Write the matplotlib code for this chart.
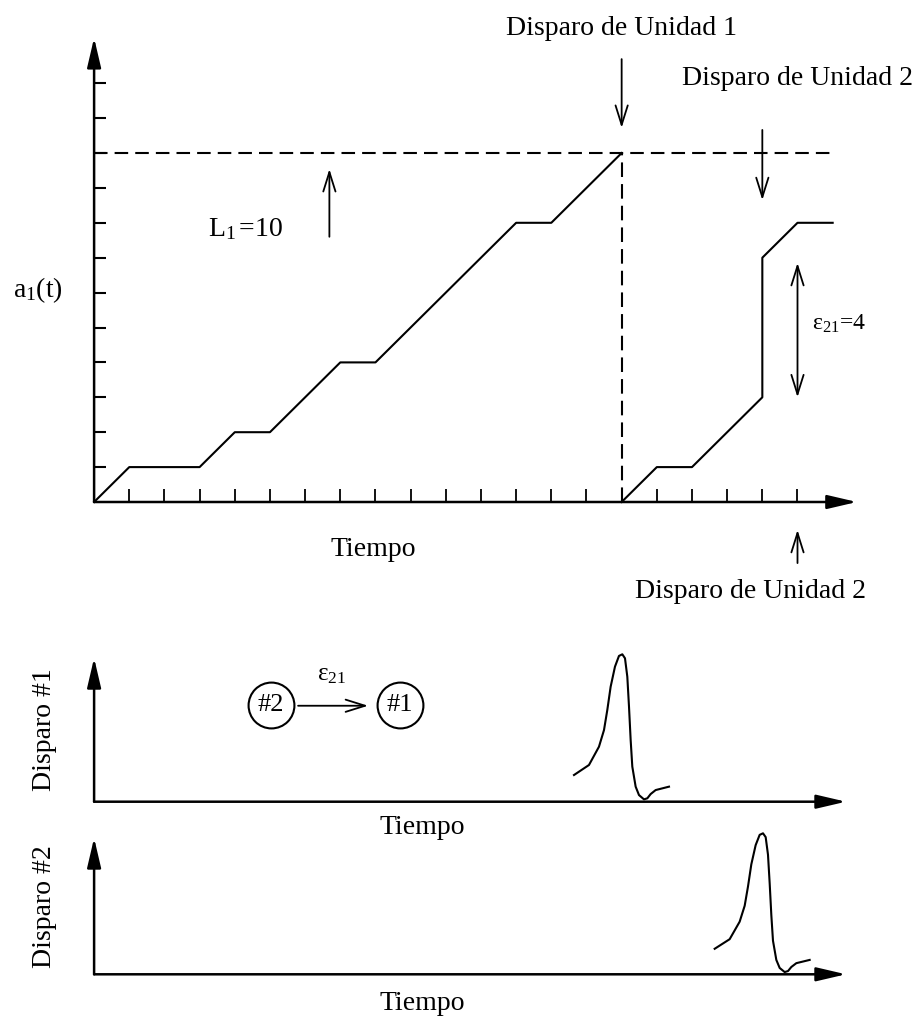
import matplotlib
matplotlib.use("Agg")
import matplotlib.pyplot as plt

plt.rcParams['font.family'] = ['Liberation Serif', 'DejaVu Serif']
plt.rcParams['mathtext.fontset'] = 'custom'
plt.rcParams['mathtext.rm'] = 'Liberation Serif'
plt.rcParams['mathtext.it'] = 'Liberation Serif:italic'
plt.rcParams['mathtext.default'] = 'regular'

# ---------------- data ----------------
unit1_t = [0, 1, 3, 4, 5, 7, 8, 12, 13, 15]
unit1_a = [0, 1, 1, 2, 2, 4, 4, 8, 8, 10]
unit2_t = [15, 16, 17, 19, 19, 20, 21]
unit2_a = [0, 1, 1, 3, 7, 8, 8]
threshold = 10
threshold_end = 21.1
fire1_t = 15
fire2_t = 19
eps_t = 20
eps_low, eps_high = 3.0, 6.85
x_ticks = list(range(1, 21))
y_ticks = list(range(1, 13))

spike_dt = [-1.355, -0.929, -0.645, -0.502, -0.408, -0.313, -0.19, -0.076, 0.019,
            0.095, 0.161, 0.209, 0.256, 0.303, 0.398, 0.493, 0.635, 0.73, 0.825,
            0.967, 1.346]
spike_amp = [0.181, 0.249, 0.373, 0.486, 0.622, 0.78, 0.916, 0.989, 1.0,
             0.973, 0.848, 0.645, 0.419, 0.238, 0.102, 0.045, 0.016, 0.023, 0.052,
             0.079, 0.102]

W, H = 919, 1016
fig = plt.figure(figsize=(W / 100, H / 100), dpi=100)

FS = 20
LW_AX = 1.8
LW = 1.5
px_x = 35.17  # pixels per time unit

def axes_at(x0px, y0px, xmax, ymax, py):
    left = x0px / W
    bottom = (H - y0px) / H
    width = xmax * px_x / W
    height = ymax * py / H
    ax = fig.add_axes([left, bottom, width, height])
    ax.set_xlim(0, xmax)
    ax.set_ylim(0, ymax)
    ax.patch.set_alpha(0)
    for s in ax.spines.values():
        s.set_visible(False)
    return ax

def axis_arrow(ax, xy, xytext):
    ax.annotate('', xy=xy, xytext=xytext, annotation_clip=False,
                arrowprops=dict(arrowstyle='-|>,head_length=1.2,head_width=0.28',
                                lw=LW_AX, color='k', mutation_scale=15,
                                shrinkA=0, shrinkB=0))

def open_arrow(ax, xy, xytext, style='->'):
    ax.annotate('', xy=xy, xytext=xytext, annotation_clip=False,
                arrowprops=dict(arrowstyle=style + ',head_length=0.7,head_width=0.22',
                                lw=1.3, color='k', mutation_scale=20,
                                shrinkA=0, shrinkB=0))

# ---------------- main chart ----------------
py_main = 34.9
xmax_m, ymax_m = 21.69, 13.3
ax = axes_at(94.1, 502, xmax_m, ymax_m, py_main)
ax.set_xticks(x_ticks)
ax.set_yticks(y_ticks)
ax.tick_params(axis='x', direction='in', length=9.4, width=1.3,
               labelbottom=False)
ax.tick_params(axis='y', direction='in', length=8.6, width=1.5,
               labelleft=False)
axis_arrow(ax, (xmax_m, 0), (0, 0))
axis_arrow(ax, (0, ymax_m), (0, 0))

ax.plot(unit1_t, unit1_a, color='k', lw=LW, clip_on=False)
ax.plot(unit2_t, unit2_a, color='k', lw=LW, clip_on=False)
ax.plot([0, threshold_end], [threshold, threshold], color='k', lw=1.5,
        linestyle=(0, (6.5, 3.4)), clip_on=False)
ax.plot([fire1_t, fire1_t], [0, threshold], color='k', lw=1.5,
        linestyle=(0, (7, 3.4)), clip_on=False)

# L1 arrow and label
open_arrow(ax, (6.69, 9.54), (6.69, 7.6))
ax.text(3.25, 7.63, r'L$_1\,$=10', fontsize=20, ha='left', va='baseline')

# Disparo de Unidad 1
ax.text(fire1_t, 13.38, 'Disparo de Unidad 1', fontsize=FS, ha='center',
        va='baseline', clip_on=False)
open_arrow(ax, (fire1_t, 10.72), (fire1_t, 12.69))

# Disparo de Unidad 2 (upper)
ax.text(20.0, 11.95, 'Disparo de Unidad 2', fontsize=FS, ha='center',
        va='baseline', clip_on=False)
open_arrow(ax, (fire2_t, 8.65), (fire2_t, 10.66))

# epsilon double arrow
open_arrow(ax, (eps_t, eps_high), (eps_t, eps_low), style='<->')
ax.text(20.41, 4.93, r'ε$_{21}$=4', fontsize=17, ha='left', va='baseline',
        clip_on=False)

# Disparo de Unidad 2 (lower)
open_arrow(ax, (eps_t, -0.8), (eps_t, -1.75))
ax.text(18.65, -2.75, 'Disparo de Unidad 2', fontsize=FS, ha='center',
        va='baseline', clip_on=False)

ax.text(7.93, -1.55, 'Tiempo', fontsize=FS, ha='center', va='baseline',
        clip_on=False)
ax.text(-2.31, 5.87, r'a$_1$(t)', fontsize=FS, ha='left', va='baseline',
        clip_on=False)

# ---------------- firing panels ----------------
def firing_panel(y0px, py, ytip, fire_t, label, tiempo_y):
    a = axes_at(94.1, y0px, 21.38, ytip, py)
    a.set_xticks([])
    a.set_yticks([])
    axis_arrow(a, (21.38, 0), (0, 0))
    axis_arrow(a, (0, ytip), (0, 0))
    a.plot([fire_t + d for d in spike_dt], spike_amp, color='k', lw=LW,
           clip_on=False)
    a.text(-1.42, 0.5 * ytip, label, fontsize=FS, rotation=90, ha='center',
           va='center', clip_on=False)
    a.text(9.32, tiempo_y, 'Tiempo', fontsize=FS, ha='center', va='baseline',
           clip_on=False)
    return a

p1 = firing_panel(801.7, 147.4, 0.975, fire1_t, 'Disparo #1', -0.219)
p2 = firing_panel(974.3, 141.0, 0.967, fire2_t, 'Disparo #2', -0.253)

# network diagram in panel 1
node_t = [5.02, 8.7]
node_lbl = ['#2', '#1']
node_y = 0.656
p1.plot(node_t, [node_y, node_y], linestyle='none', marker='o', ms=33,
        mfc='white', mec='k', mew=1.5, clip_on=False)
for t, lbl in zip(node_t, node_lbl):
    p1.text(t, node_y, lbl, fontsize=19, ha='center', va='center')
open_arrow(p1, (7.79, 0.651), (5.8, 0.651))
p1.text(6.76, 0.826, r'ε$_{21}$', fontsize=18, ha='center', va='baseline')

fig.savefig('out.png', dpi=100)
